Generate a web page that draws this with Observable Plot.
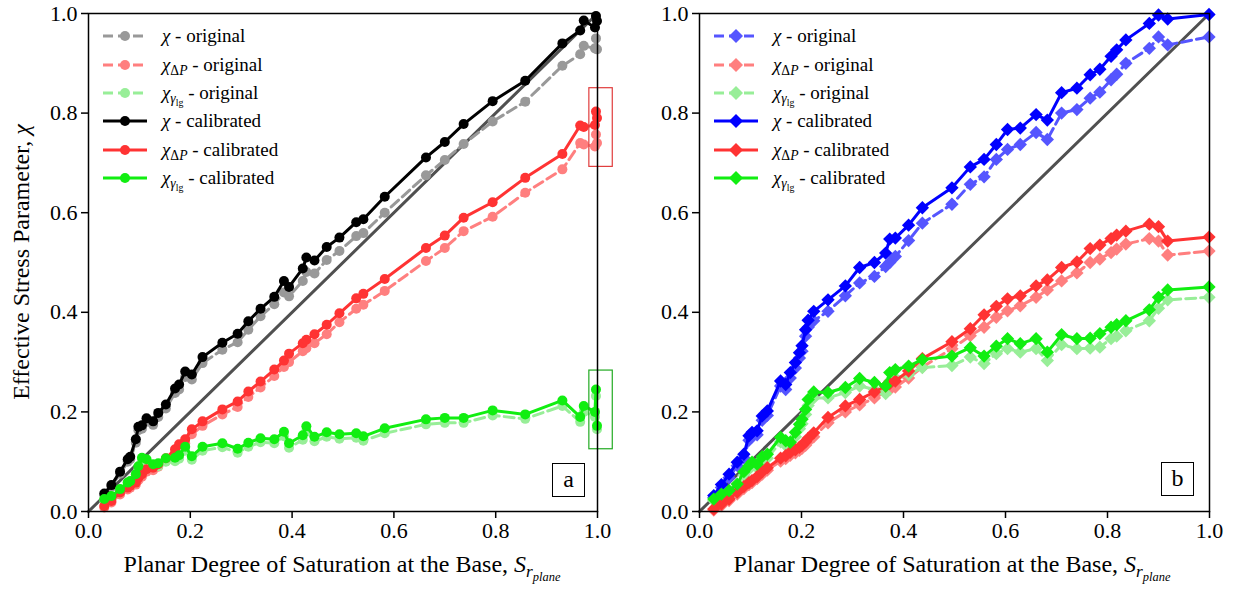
<!DOCTYPE html>
<html><head><meta charset="utf-8">
<script src="https://cdn.jsdelivr.net/npm/d3@7"></script>
<script src="https://cdn.jsdelivr.net/npm/@observablehq/plot@0.6"></script>
<style>
body{margin:0;background:#fff;}
#wrap{position:relative;width:1240px;height:590px;font-family:"Liberation Serif",serif;color:#000;overflow:hidden;}
.panel{position:absolute;top:0;}
.panel text{font-family:"Liberation Serif",serif;}
.legend{position:absolute;font-size:19px;font-family:"Liberation Serif",serif;}
.legend .row{display:flex;align-items:center;height:28.4px;white-space:nowrap;}
.legend svg{margin-right:15px;flex:none;}
.tag{position:absolute;border:1.5px solid #000;background:#fff;font-size:24px;line-height:30px;text-align:center;box-sizing:border-box;font-family:"Liberation Serif",serif;}
.xlab{position:absolute;font-size:24px;white-space:nowrap;transform:translateX(-50%);font-family:"Liberation Serif",serif;}
.ylab{position:absolute;font-size:24px;white-space:nowrap;transform:translate(-50%,-50%) rotate(-90deg);font-family:"Liberation Serif",serif;}
sub{font-size:0.72em;vertical-align:-0.3em;line-height:0;}
</style></head>
<body><div id="wrap"></div>
<script>
// ---------- Panel a data (circles) ----------
const xA = [0.031,0.045,0.062,0.077,0.082,0.093,0.098,0.105,0.114,0.127,0.137,0.152,0.170,0.178,0.190,0.203,0.224,0.263,0.293,0.314,0.338,0.365,0.384,0.394,0.421,0.428,0.444,0.468,0.493,0.526,0.540,0.582,0.663,0.700,0.737,0.794,0.858,0.931,0.966,0.973,0.995,0.997,0.999];
const chiOrigA = [0.033,0.050,0.076,0.100,0.105,0.138,0.163,0.166,0.180,0.174,0.190,0.207,0.238,0.245,0.270,0.265,0.298,0.325,0.340,0.365,0.392,0.416,0.440,0.432,0.463,0.481,0.478,0.505,0.523,0.553,0.559,0.600,0.675,0.706,0.738,0.783,0.823,0.895,0.918,0.935,0.930,0.950,0.928];
const dpOrigA = [0.008,0.018,0.034,0.044,0.048,0.054,0.063,0.070,0.080,0.083,0.090,0.101,0.118,0.127,0.137,0.155,0.172,0.195,0.210,0.230,0.249,0.272,0.290,0.300,0.322,0.328,0.338,0.356,0.380,0.407,0.415,0.443,0.503,0.529,0.563,0.592,0.640,0.687,0.740,0.737,0.733,0.757,0.740];
const glgOrigA = [0.022,0.028,0.041,0.054,0.057,0.070,0.085,0.101,0.098,0.089,0.091,0.100,0.101,0.106,0.122,0.104,0.122,0.129,0.118,0.130,0.139,0.137,0.151,0.128,0.144,0.161,0.141,0.150,0.146,0.148,0.142,0.157,0.175,0.178,0.178,0.193,0.186,0.212,0.180,0.200,0.190,0.232,0.165];
const chiCalA = [0.036,0.053,0.080,0.105,0.110,0.145,0.170,0.173,0.187,0.181,0.198,0.215,0.247,0.255,0.281,0.275,0.310,0.339,0.357,0.382,0.407,0.431,0.463,0.451,0.488,0.510,0.504,0.531,0.550,0.581,0.587,0.632,0.711,0.742,0.778,0.824,0.865,0.940,0.966,0.986,0.972,0.995,0.985];
const dpCalA = [0.011,0.021,0.038,0.048,0.052,0.058,0.068,0.075,0.085,0.088,0.095,0.107,0.125,0.135,0.145,0.165,0.181,0.205,0.221,0.241,0.261,0.285,0.303,0.317,0.338,0.345,0.356,0.375,0.398,0.428,0.437,0.467,0.529,0.554,0.590,0.621,0.670,0.718,0.775,0.772,0.776,0.803,0.790];
const glgCalA = [0.025,0.031,0.045,0.058,0.061,0.075,0.091,0.108,0.105,0.095,0.097,0.107,0.108,0.113,0.130,0.111,0.130,0.137,0.126,0.138,0.147,0.145,0.160,0.137,0.153,0.171,0.150,0.159,0.155,0.157,0.151,0.167,0.185,0.188,0.188,0.203,0.195,0.223,0.190,0.212,0.200,0.245,0.172];

// ---------- Panel b data (diamonds) ----------
const xB = [0.028,0.043,0.058,0.074,0.087,0.097,0.103,0.113,0.123,0.133,0.159,0.169,0.178,0.188,0.196,0.201,0.208,0.213,0.224,0.252,0.286,0.314,0.343,0.365,0.373,0.384,0.410,0.437,0.495,0.531,0.558,0.582,0.604,0.629,0.660,0.682,0.710,0.740,0.766,0.785,0.807,0.818,0.836,0.882,0.900,0.918,0.999];
const chiOrigB = [0.028,0.048,0.068,0.092,0.108,0.143,0.150,0.154,0.183,0.193,0.252,0.245,0.268,0.288,0.308,0.322,0.352,0.370,0.383,0.402,0.433,0.459,0.472,0.492,0.500,0.512,0.544,0.579,0.617,0.657,0.672,0.707,0.727,0.737,0.761,0.747,0.800,0.807,0.830,0.842,0.867,0.878,0.900,0.930,0.953,0.937,0.953];
const dpOrigB = [0.003,0.012,0.022,0.035,0.046,0.054,0.058,0.066,0.075,0.083,0.101,0.106,0.113,0.118,0.123,0.127,0.133,0.140,0.150,0.178,0.200,0.214,0.228,0.240,0.245,0.250,0.268,0.290,0.327,0.353,0.370,0.390,0.403,0.413,0.430,0.445,0.463,0.479,0.500,0.507,0.520,0.527,0.537,0.548,0.543,0.515,0.523];
const glgOrigB = [0.022,0.032,0.038,0.050,0.073,0.085,0.092,0.088,0.102,0.107,0.140,0.133,0.130,0.150,0.166,0.176,0.195,0.213,0.228,0.228,0.239,0.252,0.245,0.237,0.262,0.268,0.275,0.289,0.293,0.310,0.297,0.317,0.327,0.320,0.327,0.303,0.335,0.327,0.328,0.330,0.347,0.352,0.363,0.383,0.408,0.425,0.430];
const chiCalB = [0.032,0.054,0.075,0.099,0.115,0.152,0.159,0.162,0.192,0.202,0.262,0.255,0.279,0.299,0.319,0.333,0.365,0.384,0.402,0.425,0.453,0.490,0.500,0.519,0.547,0.549,0.575,0.610,0.650,0.692,0.707,0.737,0.767,0.770,0.797,0.786,0.841,0.850,0.877,0.888,0.914,0.927,0.947,0.980,0.997,0.989,0.998];
const dpCalB = [0.005,0.015,0.025,0.039,0.050,0.058,0.062,0.070,0.080,0.088,0.107,0.112,0.119,0.124,0.129,0.133,0.140,0.147,0.158,0.189,0.212,0.225,0.240,0.252,0.257,0.262,0.282,0.307,0.341,0.367,0.395,0.412,0.427,0.433,0.453,0.465,0.490,0.501,0.528,0.535,0.548,0.555,0.563,0.577,0.572,0.543,0.551];
const glgCalB = [0.025,0.035,0.042,0.055,0.080,0.092,0.099,0.095,0.110,0.115,0.149,0.142,0.139,0.159,0.175,0.185,0.205,0.225,0.240,0.239,0.249,0.267,0.259,0.252,0.279,0.285,0.292,0.305,0.312,0.329,0.312,0.332,0.347,0.337,0.347,0.320,0.355,0.347,0.348,0.357,0.370,0.375,0.383,0.405,0.430,0.445,0.451];

// ---------- shared ----------
const ticks = [0, 0.2, 0.4, 0.6, 0.8, 1.0];
const identityLine = [0, 1];
const legendHtml = [
  '<i>χ</i> - original',
  '<i>χ</i><sub>Δ<i>P</i></sub> - original',
  '<i>χ</i><sub><i>γ</i><sub>lg</sub></sub> - original',
  '<i>χ</i> - calibrated',
  '<i>χ</i><sub>Δ<i>P</i></sub> - calibrated',
  '<i>χ</i><sub><i>γ</i><sub>lg</sub></sub> - calibrated'
];
const colorsA = ["#999999","#ff7f7f","#98ee98","#000000","#ff3333","#11ee11"];
const colorsB = ["#5555ff","#ff7f7f","#98ee98","#0000ff","#ff3333","#11ee11"];
const dashed = [true,true,true,false,false,false];
const highlightA = [
  {x1:0.984, x2:1.030, y1:0.692, y2:0.850},
  {x1:0.984, x2:1.030, y1:0.125, y2:0.283}
];

function seriesData(xs, ys){ return xs.map((x,i)=>({x, y: ys[i]})); }

function makePanel(xs, ysList, colors, symbol, r, width, marginRight, extra){
  const marks = [Plot.line(identityLine, {x: d=>d, y: d=>d, stroke:"#505050", strokeWidth:3})];
  ysList.forEach((ys,k)=>{
    const data = seriesData(xs, ys);
    marks.push(Plot.line(data, {x:"x", y:"y", stroke: colors[k], strokeWidth: 3,
      strokeDasharray: dashed[k] ? "10,5" : null}));
    marks.push(Plot.dot(data, {x:"x", y:"y", fill: colors[k], stroke:"none", r, symbol}));
  });
  if (extra) marks.push(...extra);
  marks.push(Plot.frame({stroke:"#000", strokeWidth:1.5}));
  const fmt = d3.format(".1f");
  marks.push(Plot.axisX({ticks, tickFormat: fmt, tickSize:7, tickPadding:4, label:null, fontSize:22, fontFamily:"Liberation Serif", strokeWidth:1.5}));
  marks.push(Plot.axisY({ticks, tickFormat: fmt, tickSize:7, tickPadding:4, label:null, fontSize:22, fontFamily:"Liberation Serif", strokeWidth:1.5}));
  return Plot.plot({
    width, height:590, marginLeft:88, marginRight, marginTop:13, marginBottom:79,
    x:{domain:[0,1]}, y:{domain:[0,1]},
    style:{fontFamily:'"Liberation Serif", serif', fontSize:"22px", background:"transparent", overflow:"visible", color:"#000"},
    marks
  });
}

const wrap = document.getElementById("wrap");

const plotA = makePanel(xA, [chiOrigA,dpOrigA,glgOrigA,chiCalA,dpCalA,glgCalA], colorsA, "circle", 5, 620, 23, [
  Plot.rect([highlightA[0]], {x1:"x1", x2:"x2", y1:"y1", y2:"y2", fill:"none", stroke:"#e03c3c", strokeWidth:1.2}),
  Plot.rect([highlightA[1]], {x1:"x1", x2:"x2", y1:"y1", y2:"y2", fill:"none", stroke:"#22aa22", strokeWidth:1.2})
]);
plotA.classList.add("panel"); plotA.style.left = "0px";
wrap.appendChild(plotA);

const plotB = makePanel(xB, [chiOrigB,dpOrigB,glgOrigB,chiCalB,dpCalB,glgCalB], colorsB, "diamond2", 6, 629, 31);
plotB.classList.add("panel"); plotB.style.left = "611px";
wrap.appendChild(plotB);

function legend(left, top, colors, markerSvg){
  const div = document.createElement("div");
  div.className = "legend";
  div.style.left = left + "px"; div.style.top = top + "px";
  legendHtml.forEach((h,k)=>{
    const row = document.createElement("div");
    row.className = "row";
    const dash = dashed[k] ? 'stroke-dasharray="10,5"' : '';
    row.innerHTML = `<svg width="44" height="16"><line x1="0" y1="8" x2="44" y2="8" stroke="${colors[k]}" stroke-width="3" ${dash}/>${markerSvg(colors[k])}</svg><span>${h}</span>`;
    div.appendChild(row);
  });
  wrap.appendChild(div);
}
legend(103, 22, colorsA, c=>`<circle cx="22" cy="8" r="5" fill="${c}"/>`);
legend(714, 22, colorsB, c=>`<path d="M22,1 L29,8 L22,15 L15,8Z" fill="${c}"/>`);

function tag(txt, left, top){
  const d = document.createElement("div");
  d.className = "tag"; d.textContent = txt;
  d.style.left = left+"px"; d.style.top = top+"px"; d.style.width="33px"; d.style.height="34px";
  wrap.appendChild(d);
}
tag("a", 552, 463);
tag("b", 1161, 462);

function xlab(cx){
  const d = document.createElement("div");
  d.className = "xlab";
  d.innerHTML = 'Planar Degree of Saturation at the Base, <i>S</i><sub><i>r</i><sub><i>plane</i></sub></sub>';
  d.style.left = cx + "px"; d.style.top = "551px";
  wrap.appendChild(d);
}
xlab(342);
xlab(952);

const yl = document.createElement("div");
yl.className = "ylab";
yl.innerHTML = 'Effective Stress Parameter, <i>χ</i>';
yl.style.left = "21px"; yl.style.top = "262px";
wrap.appendChild(yl);
</script>
</body></html>
